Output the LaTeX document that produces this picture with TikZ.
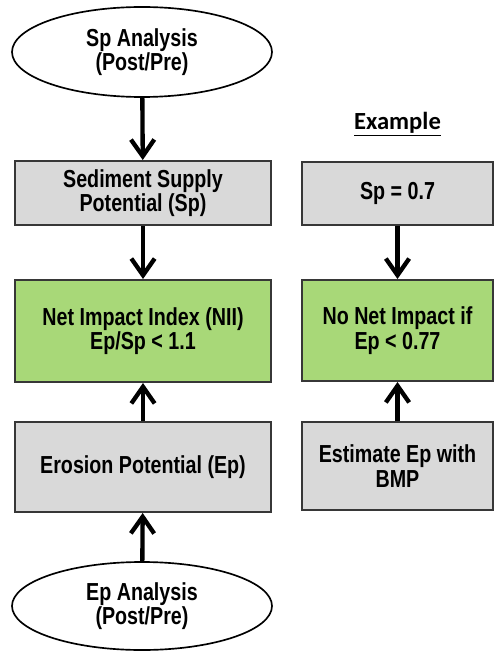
\documentclass[tikz,border=0pt]{standalone}
\usepackage{fontspec}
\setmainfont{Liberation Sans}[FakeStretch=0.8]
\newfontfamily\exfont{Carlito}
\usetikzlibrary{shapes.geometric,arrows.meta}
\definecolor{boxgray}{RGB}{217,217,217}
\definecolor{boxgreen}{RGB}{168,216,120}
\definecolor{edgegray}{RGB}{55,55,55}
\begin{document}
\begin{tikzpicture}[
    x=0.03cm, y=-0.03cm,
    mybox/.style={rectangle, draw=edgegray, line width=0.06cm, fill=boxgray, align=center,
        font=\fontsize{21}{21}\selectfont\bfseries, inner sep=0pt},
    myell/.style={ellipse, draw=black, line width=0.05cm, fill=white, align=center,
        font=\fontsize{21}{21}\selectfont\bfseries, inner sep=0pt},
    myarrow/.style={-{Straight Barb[length=0.5cm, width=0.7cm]}, line width=0.13cm, black},
]
\useasboundingbox (0,0) rectangle (498,651);

% left column
\node[myell, minimum width=7.8cm, minimum height=2.7cm] (spana) at (142,52) {Sp Analysis\\(Post/Pre)};
\node[mybox, minimum width=7.68cm, minimum height=1.92cm] (sed) at (143,193) {Sediment Supply\\Potential (Sp)};
\node[mybox, fill=boxgreen, minimum width=7.68cm, minimum height=3.06cm] (nii) at (143,331) {Net Impact Index (NII)\\Ep/Sp < 1.1};
\node[mybox, minimum width=7.68cm, minimum height=2.7cm] (ero) at (143,467) {Erosion Potential (Ep)};
\node[myell, minimum width=7.8cm, minimum height=2.64cm] (epana) at (142,606) {Ep Analysis\\(Post/Pre)};

% right column
\node[font=\exfont\fontsize{21}{20}\selectfont\bfseries] (ex) at (397.5,124) {\underline{Example}};
\node[mybox, minimum width=5.73cm, minimum height=1.89cm] (spval) at (397.5,193.5) {Sp = 0.7};
\node[mybox, fill=boxgreen, minimum width=5.73cm, minimum height=3.03cm] (noimp) at (397.5,330.5) {No Net Impact if\\Ep < 0.77};
\node[mybox, minimum width=5.73cm, minimum height=2.64cm] (est) at (397.5,466) {Estimate Ep with\\BMP};

\draw[myarrow] (spana) -- (sed);
\draw[myarrow] (sed) -- (nii);
\draw[myarrow] (ero) -- (nii);
\draw[myarrow] (epana) -- (ero);
\draw[myarrow] (spval) -- (noimp);
\draw[myarrow] (est) -- (noimp);
\end{tikzpicture}
\end{document}
